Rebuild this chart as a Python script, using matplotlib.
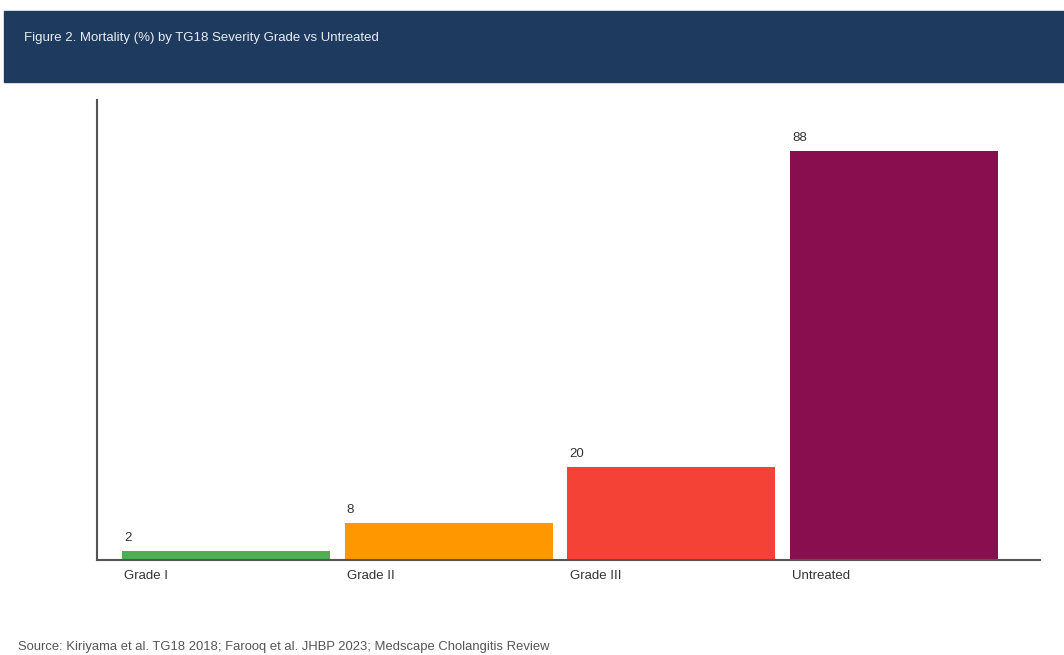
import matplotlib
matplotlib.use("Agg")
from matplotlib import pyplot as plt
from matplotlib.patches import Rectangle
import numpy as np

categories = ['Grade I', 'Grade II', 'Grade III', 'Untreated']
mortality = [2, 8, 20, 88]
bar_colors = ['#4caf50', '#ff9800', '#f44336', '#880e4f']

title = 'Figure 2. Mortality (%) by TG18 Severity Grade vs Untreated'
source = 'Source: Kiriyama et al. TG18 2018; Farooq et al. JHBP 2023; Medscape Cholangitis Review'

plt.rcParams['font.family'] = ['Liberation Sans', 'DejaVu Sans']
plt.rcParams['text.color'] = '#333333'

fig = plt.figure(figsize=(10.64, 6.55), dpi=100)
W, H = 1064, 655

# header band
fig.patches.append(Rectangle((4 / W, 1 - 82 / H), 1 - 4 / W, 71 / H,
                             transform=fig.transFigure, color='#1f3a5f', zorder=0))
fig.text(24 / W, 1 - 38 / H, title, color='#e8edf3', fontsize=9.5, va='center', ha='left')
fig.text(18 / W, 1 - 647 / H, source, color='#555555', fontsize=9.4, va='center', ha='left')

ax = fig.add_axes([97 / W, 1 - 560 / H, (1040 - 97) / W, (560 - 100) / H])
x = np.arange(len(categories))
width = 0.935
ax.bar(x, mortality, width=width, color=bar_colors, zorder=2)
ax.set_xlim(-0.58, 3.656)
ax.set_ylim(0, 99)

for xi, v in zip(x, mortality):
    ax.annotate(str(v), (xi - width / 2, v), xytext=(1.5, 5), textcoords='offset points',
                ha='left', va='bottom', fontsize=9.5, color='#333333')

ax.set_xticks(x - width / 2 + 0.01)
ax.set_xticklabels(categories, ha='left', fontsize=9.5, color='#333333')
ax.tick_params(axis='x', length=0, pad=7)
ax.set_yticks([])
for s in ['top', 'right']:
    ax.spines[s].set_visible(False)
for s in ['left', 'bottom']:
    ax.spines[s].set_color('#555555')
    ax.spines[s].set_linewidth(1.5)

fig.savefig('out.png', dpi=100)
